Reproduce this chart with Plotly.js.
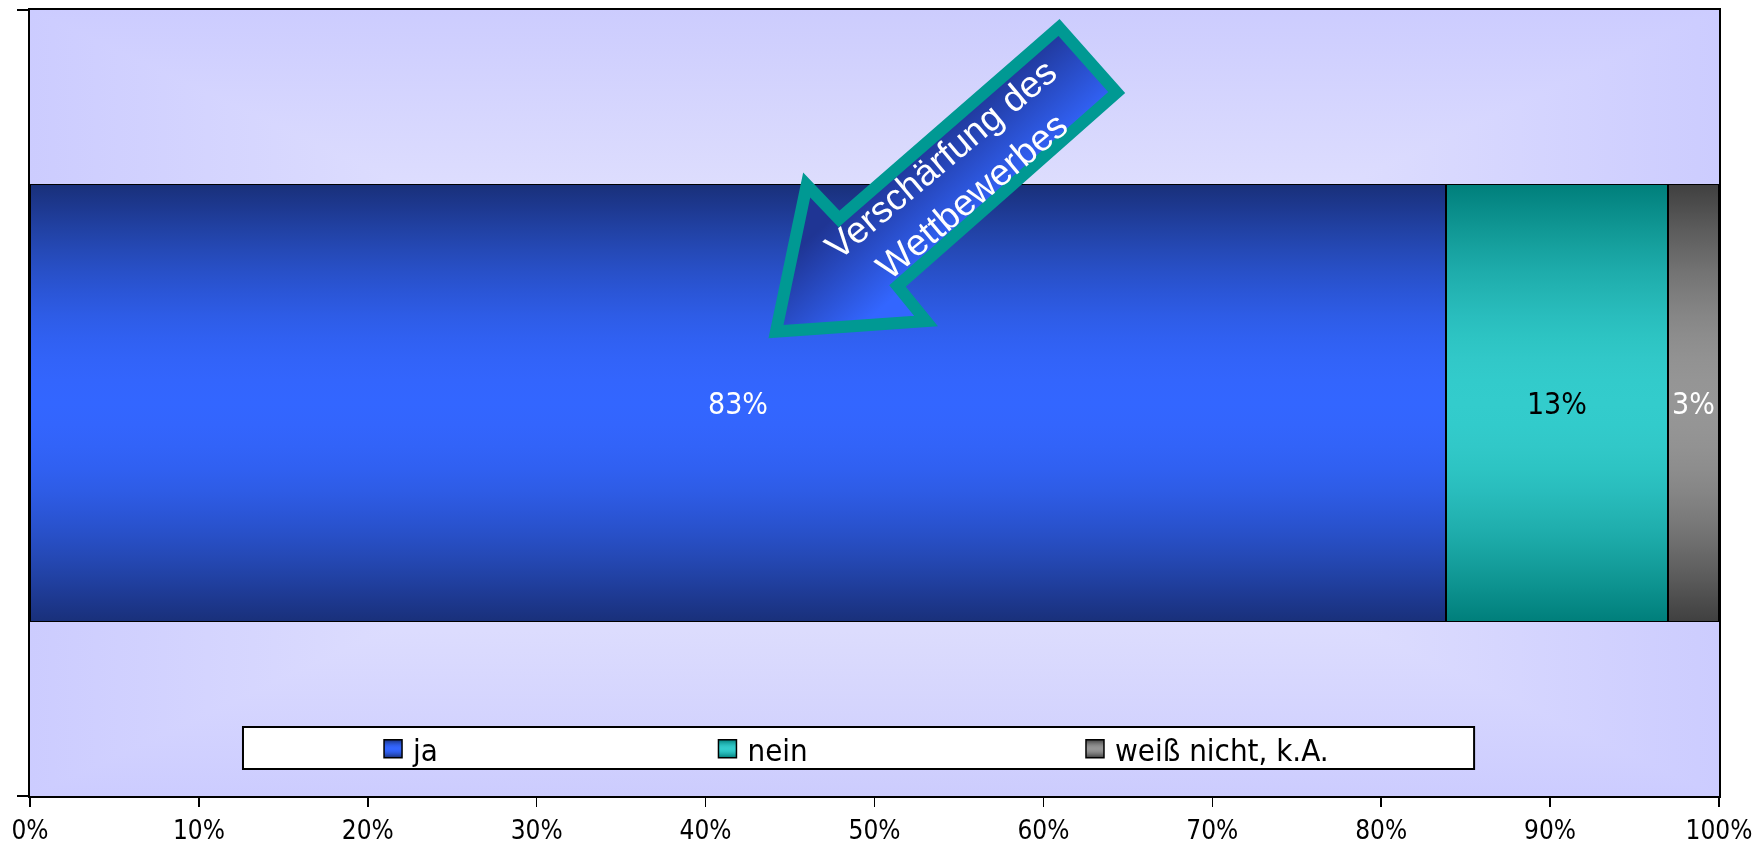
<!DOCTYPE html>
<html>
<head>
<meta charset="utf-8">
<script src="https://cdn.plot.ly/plotly-3.0.1.min.js"></script>
<style>
  html, body { margin: 0; padding: 0; background: #ffffff; }
  #chart { width: 1758px; height: 846px; }
</style>
</head>
<body>
<div id="chart"></div>
<script>
// Survey answers (share of respondents)
const seriesNames = ['ja', 'nein', 'weiß nicht, k.A.'];
const seriesValues = [83, 13, 3];
const tickValues = [0, 10, 20, 30, 40, 50, 60, 70, 80, 90, 100];
const tickLabels = ['0%', '10%', '20%', '30%', '40%', '50%', '60%', '70%', '80%', '90%', '100%'];
const arrowText = 'Verschärfung des<br>Wettbewerbes';

// Styling
const FONT = 'DejaVu Sans Condensed, DejaVu Sans, Verdana, sans-serif';
const ARROW_FONT = 'Liberation Sans, Arial, sans-serif';
const flatColors = ['#2a55e0', '#1fa8a8', '#707070'];
const labelColors = ['#ffffff', '#000000', '#ffffff'];
const barGradients = [
  ['#19307a', '#3366ff'],
  ['#007f7b', '#33cccc'],
  ['#404040', '#969696']
];
const legendIds = ['legend', 'legend2', 'legend3'];
const legendX = [0.2031, 0.4011, 0.6187];

const traces = seriesNames.map((name, i) => ({
  type: 'bar',
  orientation: 'h',
  name: name,
  y: [0],
  x: [seriesValues[i]],
  text: [seriesValues[i] + '%'],
  textposition: 'inside',
  insidetextanchor: 'middle',
  textangle: 0,
  constraintext: 'none',
  textfont: { family: FONT, size: 30, color: labelColors[i] },
  marker: { color: flatColors[i], line: { color: '#000000', width: 1.5 } },
  legend: legendIds[i],
  hoverinfo: 'skip'
}));

function legendLayout(x) {
  return {
    orientation: 'h',
    x: x, xanchor: 'left',
    y: 0.0598, yanchor: 'middle',
    bgcolor: 'rgba(0,0,0,0)',
    borderwidth: 0,
    font: { family: FONT, size: 31, color: '#000000' }
  };
}

// Arrow outline (paper coordinates)
const arrowPts = [
  [0.44168, 0.59084], [0.45986, 0.77735], [0.47898, 0.73410],
  [0.60924, 0.97774], [0.64340, 0.89504], [0.51362, 0.64885],
  [0.53049, 0.60433]
];
const arrowPath = 'M' + arrowPts.map(p => p[0] + ',' + p[1]).join(' L') + ' Z';

const layout = {
  width: 1758,
  height: 846,
  margin: { l: 30, r: 39, t: 10, b: 50 },
  paper_bgcolor: '#ffffff',
  plot_bgcolor: '#d8d8fd',
  barmode: 'stack',
  barnorm: 'percent',
  bargap: 0.444,
  showlegend: true,
  xaxis: {
    range: [0, 100],
    tickvals: tickValues,
    ticktext: tickLabels,
    ticks: 'outside', ticklen: 9, tickwidth: 1.5, tickcolor: '#000000',
    ticklabelstandoff: 1,
    showline: true, linewidth: 2, linecolor: '#000000', mirror: true,
    showgrid: false, zeroline: false,
    tickfont: { family: FONT, size: 26, color: '#000000' },
    fixedrange: true
  },
  yaxis: {
    range: [-0.5, 0.5],
    tickvals: [-0.5, 0.5],
    ticks: 'outside', ticklen: 11, tickwidth: 2, tickcolor: '#000000',
    showticklabels: false,
    showline: true, linewidth: 2, linecolor: '#000000', mirror: true,
    showgrid: false, zeroline: false,
    fixedrange: true
  },
  legend: legendLayout(legendX[0]),
  legend2: legendLayout(legendX[1]),
  legend3: legendLayout(legendX[2]),
  shapes: [
    {
      type: 'rect', xref: 'paper', yref: 'paper',
      x0: 0.1261, x1: 0.855, y0: 0.0344, y1: 0.0878,
      line: { color: '#000000', width: 2 },
      fillcolor: '#ffffff',
      layer: 'above'
    },
    {
      type: 'path', xref: 'paper', yref: 'paper',
      path: arrowPath,
      line: { color: '#009993', width: 12 },
      fillcolor: '#2c52dc',
      layer: 'above'
    }
  ],
  annotations: [
    {
      xref: 'paper', yref: 'paper',
      x: 0.5483, y: 0.7875,
      xanchor: 'center', yanchor: 'middle',
      text: arrowText,
      showarrow: false,
      textangle: -40,
      font: { family: ARROW_FONT, size: 37, color: '#ffffff' }
    }
  ]
};

const NS = 'http://www.w3.org/2000/svg';

function mix(c0, c1, f) {
  const a = parseInt(c0.slice(1), 16), b = parseInt(c1.slice(1), 16);
  const ch = s => {
    const x = (a >> s) & 255, y = (b >> s) & 255;
    return Math.round(x + (y - x) * f);
  };
  return 'rgb(' + ch(16) + ',' + ch(8) + ',' + ch(0) + ')';
}

function addLinearGradient(defs, id, stops, coords, userSpace) {
  const g = document.createElementNS(NS, 'linearGradient');
  g.setAttribute('id', id);
  if (userSpace) g.setAttribute('gradientUnits', 'userSpaceOnUse');
  g.setAttribute('x1', coords[0]); g.setAttribute('y1', coords[1]);
  g.setAttribute('x2', coords[2]); g.setAttribute('y2', coords[3]);
  stops.forEach(s => {
    const st = document.createElementNS(NS, 'stop');
    st.setAttribute('offset', s[0]);
    st.setAttribute('stop-color', s[1]);
    g.appendChild(st);
  });
  defs.appendChild(g);
}

// edge -> centre -> edge shading with a broad bright middle
function barStops(edge, centre) {
  const stops = [];
  for (let k = 0; k <= 20; k++) {
    const t = k / 20;
    stops.push([t, mix(edge, centre, Math.sin(Math.PI * t))]);
  }
  return stops;
}

Plotly.newPlot('chart', traces, layout, { staticPlot: true, displayModeBar: false }).then(gd => {
  const svg = gd.querySelector('svg.main-svg');
  let defs = svg.querySelector('defs');
  if (!defs) { defs = document.createElementNS(NS, 'defs'); svg.insertBefore(defs, svg.firstChild); }

  barGradients.forEach((c, i) => {
    addLinearGradient(defs, 'barGrad' + i, barStops(c[0], c[1]), [0, 0, 0, 1]);
  });
  // plot area: light centre fading to lavender edges (horizontal + vertical, darken-blended)
  const bgStops = [[0, '#ccccff'], [0.5, '#f2f2fd'], [1, '#ccccff']];
  addLinearGradient(defs, 'bgGradH', bgStops, [0, 0, 1, 0]);
  addLinearGradient(defs, 'bgGradV', bgStops, [0, 0, 0, 1]);
  // arrow body
  addLinearGradient(defs, 'arrowGrad', [[0, '#1f3594'], [1, '#3366ff']], [950, 115, 1016, 190], true);

  gd.querySelectorAll('.barlayer .trace').forEach((tr, i) => {
    tr.querySelectorAll('path').forEach(p => { p.style.fill = 'url(#barGrad' + i + ')'; });
  });

  legendIds.forEach((id, i) => {
    const lg = gd.querySelector('g.' + id);
    if (!lg) return;
    lg.querySelectorAll('.legendpoints path').forEach(p => {
      p.setAttribute('d', 'M9,9H-9V-9H9Z');
      p.style.fill = 'url(#barGrad' + i + ')';
      p.style.stroke = '#000000';
      p.style.strokeWidth = '1.5px';
    });
  });

  const bg = gd.querySelector('.bglayer rect.bg');
  if (bg) {
    bg.style.fill = 'url(#bgGradH)';
    const over = bg.cloneNode(true);
    over.style.fill = 'url(#bgGradV)';
    over.style.mixBlendMode = 'darken';
    bg.parentNode.insertBefore(over, bg.nextSibling);
  }

  const arrow = gd.querySelector('.layer-above .shapelayer path[data-index="1"]');
  if (arrow) arrow.style.fill = 'url(#arrowGrad)';
});
</script>
</body>
</html>
